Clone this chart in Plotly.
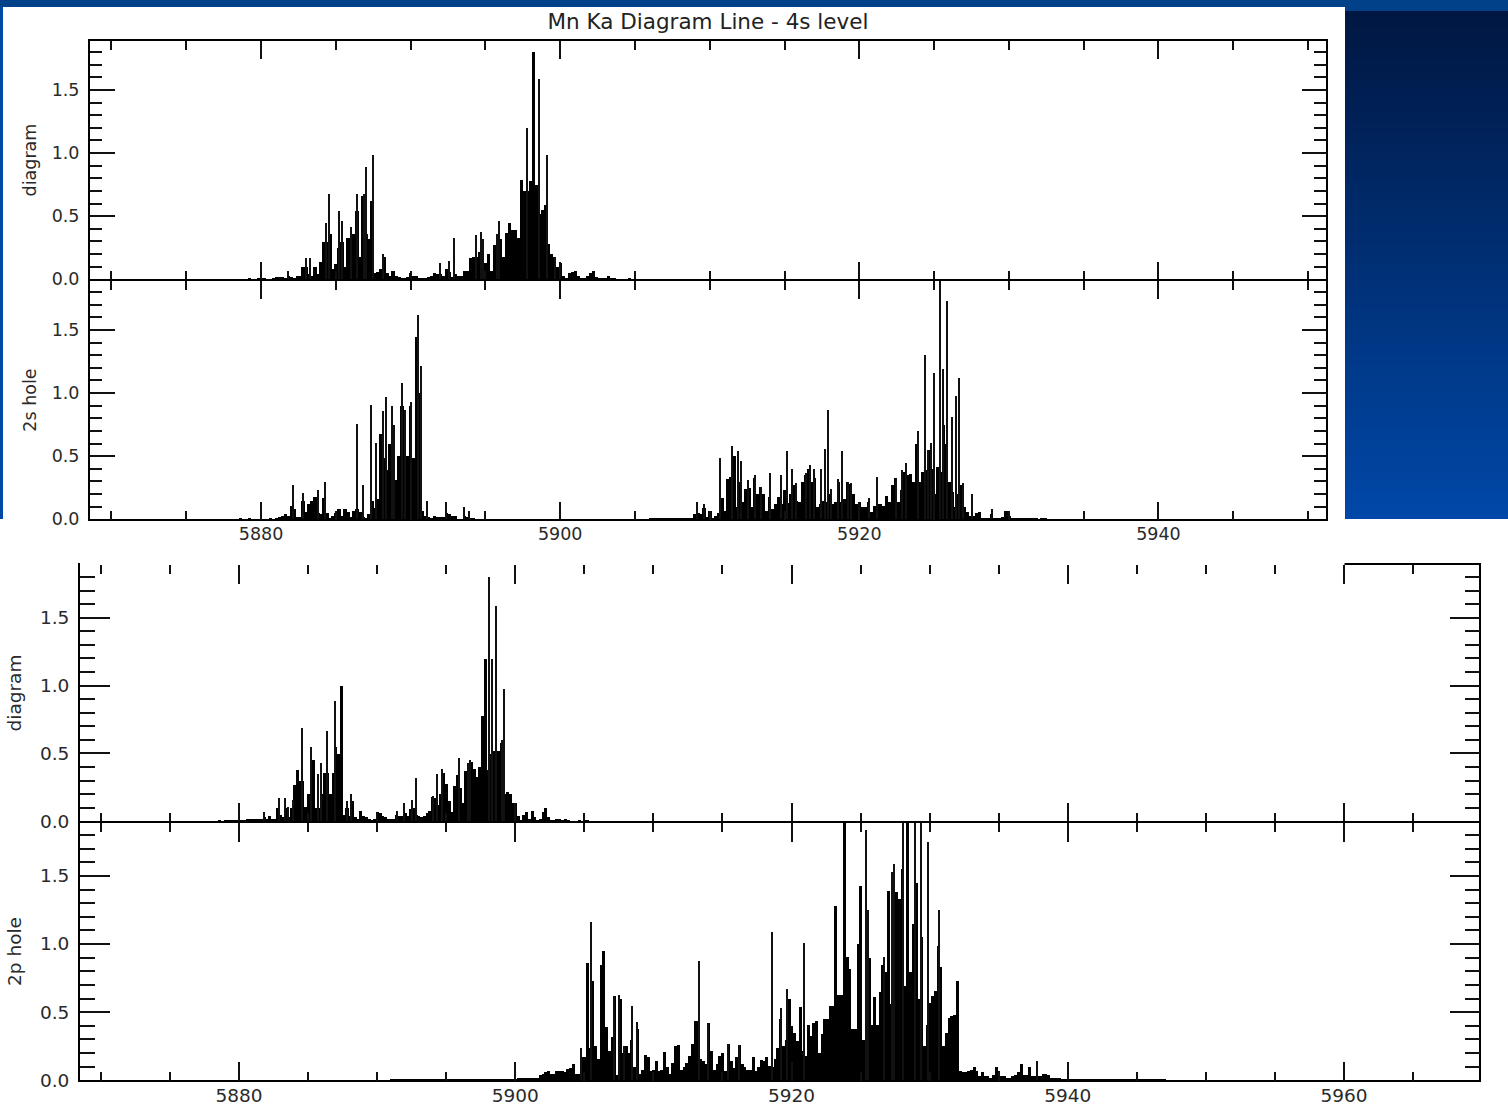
import plotly.graph_objects as go

W, H = 1508, 1108
TITLE = "Mn Ka Diagram Line - 4s level"
BIN = 0.2

# ---- Upper figure, "diagram" -------------------------------------------------
upper_diagram_x0 = 5879.0
upper_diagram = [
    0, .008, .003, .003, .008,
    .005, .008, .003, .003, .015,
    .02, .02, .02, .015, .03,
    .02, .01, .03, .03, .1,
    .1, .04, .03, .1, .04,
    .14, .3, .3, .36, .08,
    .12, .25, .3, .1, .33,
    .17, .36, .54, .18, .66,
    .36, .32, .62, .05, .06,
    .08, .18, .05, .03, .07,
    .03, .02, .01, .015, .02,
    .05, .03, .03, .01, .015,
    .015, .02, .03, .05, .04,
    .04, .03, .08, .06, .02,
    .04, .03, .03, .07, .07,
    .17, .18, .18, .22, .3,
    .13, .2, .07, .27, .21,
    .32, .18, .37, .45, .39,
    .39, .33, .79, .7, .7,
    .78, 1.8, .75, .52, .55,
    .59, .28, .2, .18, .1,
    .13, .03, .01, .05, .06,
    .07, .03, .01, .01, .03,
    .05, .07, .02, .01, .015,
    .01, .03, .015, .015, .003,
    .003, 0, 0, .01, 0,
]
upper_diagram_spike_x = [5881.83, 5883.0, 5883.27, 5884.37, 5884.57, 5885.23, 5885.43, 5886.01, 5886.39, 5886.9,
                         5886.99, 5887.48, 5888.17, 5891.94, 5892.54, 5892.92, 5894.36, 5894.68, 5894.86, 5895.75,
                         5895.93, 5897.75, 5898.55, 5899.13, 5899.64]
upper_diagram_spike_y = [.065, .17, .17, .45, .68, .54, .46, .42, .68, .68,
                         .89, .99, .2, .13, .15, .33, .35, .38, .32, .36,
                         .46, 1.2, 1.59, .99, .18]

# ---- Upper figure, "2s hole" -------------------------------------------------
upper_hole_low_x0 = 5878.0
upper_hole_low = [
    0, 0, 0, .01, 0,
    0, .01, 0, 0, 0,
    0, 0, 0, .01, 0,
    .01, .02, .03, .04, .03,
    .11, .08, .02, .02, .15,
    .06, .12, .15, .18, .05,
    .04, .17, .05, .01, .03,
    .05, .08, .03, .08, .06,
    .02, .07, .08, .06, .02,
    .01, .04, .15, .09, .16,
    .68, .49, .39, .6, .39,
    .31, .5, .9, .45, .5,
    .9, .49, 1.45, 1.0, .07,
    .03, .02, .005, .03, .02,
    .02, .02, .05, .04, .03,
    .03, 0, 0, .03, .02,
    .01, .01, 0, 0, 0,
]
upper_hole_high_x0 = 5906.0
upper_hole_high = [
    .01, .015, .005, .015, .005,
    .005, .01, .015, .005, .005,
    .01, .01, .012, .012, .015,
    .04, .05, .04, .09, .02,
    .07, .01, .03, .05, .17,
    .07, .32, .34, .5, .1,
    .3, .14, .24, .25, .1,
    .33, .2, .26, .2, .07,
    .18, .08, .12, .18, .12,
    .23, .13, .2, .27, .15,
    .14, .3, .35, .4, .3,
    .33, .1, .12, .15, .14,
    .2, .12, .14, .3, .14,
    .16, .3, .28, .2, .12,
    .14, .1, .1, .14, .06,
    .11, .12, .12, .11, .19,
    .14, .27, .33, .14, .23,
    .38, .35, .36, .3, .6,
    .3, .38, .39, .55, .4,
    .2, .42, .38, .75, .6,
    .3, .22, .1, .2, .27,
    .1, .06, .03, .03, .05,
    .06, .01, .015, .01, .04,
    .01, .01, .015, .02, .07,
    .03, .01, .005, .005, .01,
    .01, .015, .005, .012, .01,
    .003, .005, .005, .003, 0,
    .003, 0, .003, 0, .002,
]
upper_hole_spike_x = [5882.12, 5882.81, 5883.79, 5884.28, 5886.39, 5886.79, 5887.37, 5887.68, 5888.15, 5888.33,
                      5888.73, 5888.91, 5889.42, 5889.6, 5890.02, 5890.49, 5890.67, 5891.07, 5892.34, 5893.59,
                      5893.9,
                      5909.12, 5909.63, 5910.7, 5911.46, 5911.86, 5912.06, 5912.55, 5913.04, 5913.42, 5914.02,
                      5914.78, 5915.16, 5915.47, 5915.73, 5916.4, 5916.71, 5916.94, 5917.43, 5917.69, 5917.9,
                      5918.1, 5918.56, 5918.87, 5919.25, 5919.45, 5920.63, 5921.21, 5922.44, 5922.82, 5923.15,
                      5923.89, 5924.4, 5924.6, 5924.78, 5924.98, 5925.38, 5925.56, 5925.85, 5926.22, 5926.45,
                      5926.63, 5926.9, 5927.5, 5928.85]
upper_hole_spike_y = [.27, .21, .23, .3, .76, .27, .91, .61, .86, .97,
                      .9, .75, 1.08, .87, .93, 1.62, 1.22, .15, .14, .1,
                      .07,
                      .14, .12, .49, .58, .54, .46, .31, .35, .26, .37,
                      .35, .54, .4, .29, .37, .43, .4, .4, .56, .87,
                      .24, .32, .54, .3, .29, .17, .34, .33, .39, .45,
                      .7, 1.3, .55, .61, 1.16, 1.89, 1.19, 1.73, .81, .98,
                      1.12, .29, .2, .08]

# ---- Lower figure, "diagram" -------------------------------------------------
lower_diagram_x0 = 5878.6
lower_diagram = [
    .005, 0,
    .005, .008, .01, .01, .01,
    .01, .005, .005, .015, .02,
    .015, .015, .015, .015, .035,
    .02, .04, .02, .02, .1,
    .05, .03, .1, .03, .1,
    .27, .38, .3, .3, .11,
    .2, .27, .45, .1, .1,
    .2, .36, .36, .2, .36,
    .55, .5, 1.0, .05, .1,
    .04, .15, .03, .02, .08,
    .04, .03, .02, .01, .02,
    .07, .06, .04, .03, .02,
    .02, .02, .05, .04, .04,
    .06, .04, .09, .1, .05,
    .04, .03, .04, .06, .08,
    .18, .17, .12, .2, .36,
    .28, .15, .07, .26, .34,
    .25, .14, .37, .42, .44,
    .39, .33, .4, .78, 1.2,
    .38, .5, .52, .5, .52,
    .58, .2, .22, .2, .14,
    .14, .04, .01, .05, .07,
    .02, .08, .03, .01, .02,
    .07, .1, .03, .01, .01,
    .02, .02, .01, .02, .01,
    .003, 0, 0, .01, 0,
    .01, .01,
]
lower_diagram_spike_x = [5881.81, 5882.92, 5883.31, 5883.53, 5883.89, 5884.57, 5885.24, 5885.7, 5885.94, 5886.38,
                         5886.98, 5887.8, 5888.12, 5891.43, 5891.91, 5892.51, 5892.83, 5894.01, 5894.32, 5894.69,
                         5895.92, 5896.55, 5896.74, 5898.12, 5898.33, 5898.6, 5899.0, 5899.15]
lower_diagram_spike_y = [.07, .175, .175, .11, .16, .69, .55, .35, .43, .67,
                         .89, .15, .2, .08, .14, .155, .32, .19, .35, .39,
                         .47, .43, .45, 1.8, 1.2, 1.59, .6, .98]

# ---- Lower figure, "2p hole" -------------------------------------------------
lower_hole_x0 = 5891.0
lower_hole = [
    .005, .006, .004, .005, .006,
    .005, .006, .004, .006, .005,
    .005, .004, .006, .006, .005,
    .005, .006, .006, .005, .004,
    .006, .005, .006, .008, .006,
    .007, .006, .008, .008, .006,
    .008, .008, .01, .009, .008,
    .008, .01, .01, .008, .01,
    .01, .01, .009, .01, .01,
    .01, .015, .02, .02, .02,
    .02, .02, .02, .02, .04,
    .05, .065, .07, .05, .05,
    .07, .07, .07, .06, .085,
    .09, .12, .05, .05, .17,
    .17, .86, .24, .73, .25,
    .16, .85, .95, .39, .22,
    .32, .62, .04, .6, .2,
    .25, .2, .3, .1, .38,
    .05, .08, .19, .17, .07,
    .08, .14, .07, .08, .21,
    .1, .05, .13, .25, .26,
    .08, .1, .13, .18, .27,
    .44, .44, .16, .14, .12,
    .42, .22, .08, .12, .18,
    .2, .07, .27, .14, .09,
    .17, .26, .12, .1, .08,
    .08, .17, .07, .1, .15,
    .14, .17, .11, .1, .16,
    .24, .45, .25, .3, .6,
    .4, .35, .29, .54, .22,
    .18, .41, .33, .42, .44,
    .2, .34, .45, .45, .55,
    .55, 1.28, .63, .63, 1.89,
    .91, .82, .38, .38, 1.0,
    1.43, .3, .46, .9, .41,
    .61, .41, .65, .85, .8,
    1.39, .56, .83, 1.38, 1.33,
    1.55, .69, 1.89, .8, 1.15,
    1.45, .6, 1.05, .25, .41,
    .57, .62, .66, .99, .83,
    .25, .35, .46, .47, .48,
    .73, .07, .06, .06, .07,
    .08, .1, .07, .03, .06,
    .03, .03, .02, .04, .1,
    .07, .03, .03, .02, .02,
    .03, .04, .06, .12, .04,
    .04, .1, .03, .03, .03,
    .03, .05, .05, .04, .02,
    .02, .015, .015, .01, .01,
    .01, .01, .008, .01, .008,
    .008, .01, .006, .008, .008,
    .006, .008, .006, .006, .008,
    .006, .006, .008, .005, .006,
    .005, .006, .006, .005, .005,
    .006, .005, .005, .006, .005,
    .005, .006, .005, .004, .005,
    .004, .003, .002, .003, 0,
]
lower_hole_spike_x = [5904.76, 5905.48, 5907.13, 5907.5, 5907.87, 5908.45, 5908.84, 5913.29, 5913.94, 5915.41,
                      5916.18, 5918.6, 5919.25, 5919.69, 5920.89, 5925.41, 5925.51, 5926.67, 5927.25, 5927.44,
                      5928.04, 5928.94, 5929.4, 5929.88, 5930.68, 5937.8]
lower_hole_spike_y = [.24, 1.16, .62, .63, .25, .55, .43, .88, .42, .27,
                      .26, 1.09, .53, .67, 1.01, 1.84, 1.25, .91, 1.53, 1.59,
                      1.89, 1.89, 1.89, 1.75, 1.25, .14]

# ---- Layout helpers ----------------------------------------------------------
px_x = lambda p: p / W
px_y = lambda p: 1 - p / H
INK = "#000000"
FONT = "DejaVu Sans"
TEXT = "#2a2a2a"
LW = 1.5


def rect(x0, y0, x1, y1, colour, layer="below"):
    return dict(type="rect", xref="paper", yref="paper", x0=px_x(x0), x1=px_x(x1),
                y0=px_y(y1), y1=px_y(y0), fillcolor=colour, line_width=0, layer=layer)


def lerp(a, b, t):
    return tuple(round(a[i] + (b[i] - a[i]) * t) for i in range(3))


shapes = [rect(0, 0, 1345, 7, "#00418a"), rect(1345, 0, W, 11, "#00418a"), rect(0, 7, 3, 519, "#0048a8")]
BANDS = 96
G_TOP, G_BOTTOM, G_START, G_END = (0, 23, 66), (0, 72, 168), 11, 519
for i in range(BANDS):
    a = G_START + (G_END - G_START) * i / BANDS
    shapes.append(rect(1345, a, W, G_END, "rgb(%d,%d,%d)" % lerp(G_TOP, G_BOTTOM, i / (BANDS - 1))))
# the upper picture's white edge hides the lower frame's top line up to x=1344
shapes.append(rect(80, 562, 1344.5, 565, "#ffffff", layer="above"))


def x_axis(left, right, rng, anchor, labels, major, minor, size, standoff):
    return dict(domain=[px_x(left + LW / 2), px_x(right - LW / 2)], range=rng, anchor=anchor, showgrid=False,
                zeroline=False, automargin=False,
                showline=True, linecolor=INK, linewidth=LW, mirror="ticks",
                ticks="inside", ticklen=major, tickwidth=LW, tickcolor="#111",
                tick0=5880, dtick=20, showticklabels=labels, ticklabelstandoff=standoff,
                tickfont=dict(family=FONT, size=size, color=TEXT),
                minor=dict(ticks="inside", ticklen=minor, tickwidth=LW, tickcolor="#111", dtick=5, tick0=5880,
                           showgrid=False))


def y_axis(top, bottom, anchor, title, major, minor, size, standoff):
    return dict(domain=[px_y(bottom - LW / 2), px_y(top + LW / 2)], range=[0, 1.89], anchor=anchor, showgrid=False,
                zeroline=False, automargin=False,
                showline=True, linecolor=INK, linewidth=LW, mirror="ticks",
                ticks="inside", ticklen=major, tickwidth=LW, tickcolor="#111",
                tick0=0, dtick=.5, tickformat=".1f", ticklabelstandoff=5,
                tickfont=dict(family=FONT, size=size, color=TEXT),
                title=dict(text=title, standoff=standoff, font=dict(family=FONT, size=size, color=TEXT)),
                minor=dict(ticks="inside", ticklen=minor, tickwidth=LW, tickcolor="#111", dtick=.1, tick0=0,
                           showgrid=False))


U_L, U_R, L_L, L_R = 89, 1327, 79, 1480
U_RANGE = [5868.55, 5951.22]
L_RANGE = [5868.47, 5969.79]

fig = go.Figure()


def bins(values, x0, n):
    fig.add_bar(x0=x0, dx=BIN, y=values, width=BIN * 1.1, marker=dict(color=INK, line_width=0),
                xaxis="x" + n, yaxis="y" + n, showlegend=False)


def spikes(xs, ys, n, width):
    fig.add_bar(x=xs, y=ys, width=width, marker=dict(color="#111", line_width=0),
                xaxis="x" + n, yaxis="y" + n, showlegend=False)


bins(upper_diagram, upper_diagram_x0, "")
spikes(upper_diagram_spike_x, upper_diagram_spike_y, "", .09)
bins(upper_hole_low, upper_hole_low_x0, "2")
bins(upper_hole_high, upper_hole_high_x0, "2")
spikes(upper_hole_spike_x, upper_hole_spike_y, "2", .09)
bins(lower_diagram, lower_diagram_x0, "3")
spikes(lower_diagram_spike_x, lower_diagram_spike_y, "3", .1)
bins(lower_hole, lower_hole_x0, "4")
spikes(lower_hole_spike_x, lower_hole_spike_y, "4", .1)

fig.update_layout(
    template="none",
    width=W, height=H, autosize=False, margin=dict(l=0, r=0, t=0, b=0),
    paper_bgcolor="#ffffff", plot_bgcolor="rgba(0,0,0,0)", barmode="overlay", bargap=0,
    showlegend=False, shapes=shapes,
    title=dict(text=TITLE, x=px_x(708), xanchor="center", y=px_y(21.5), yanchor="middle",
               font=dict(family=FONT, size=21.5, color="#222")),
    xaxis=x_axis(U_L, U_R, U_RANGE, "y", False, 18, 9, 17.5, 0),
    yaxis=y_axis(40, 280, "x", "diagram", 25, 12.5, 17.5, 11),
    xaxis2=x_axis(U_L, U_R, U_RANGE, "y2", True, 18, 9, 17.5, -2),
    yaxis2=y_axis(280, 520, "x2", "2s hole", 25, 12.5, 17.5, 11),
    xaxis3=x_axis(L_L, L_R, L_RANGE, "y3", False, 19, 9, 18.5, 0),
    yaxis3=y_axis(564, 822, "x3", "diagram", 30, 15, 18.5, 13),
    xaxis4=x_axis(L_L, L_R, L_RANGE, "y4", True, 19, 9, 18.5, -2),
    yaxis4=y_axis(822, 1081, "x4", "2p hole", 30, 15, 18.5, 13),
)

fig.write_html("out.html", config={"displayModeBar": False},
               post_script="document.body.style.margin='0';document.body.style.overflow='hidden';")
